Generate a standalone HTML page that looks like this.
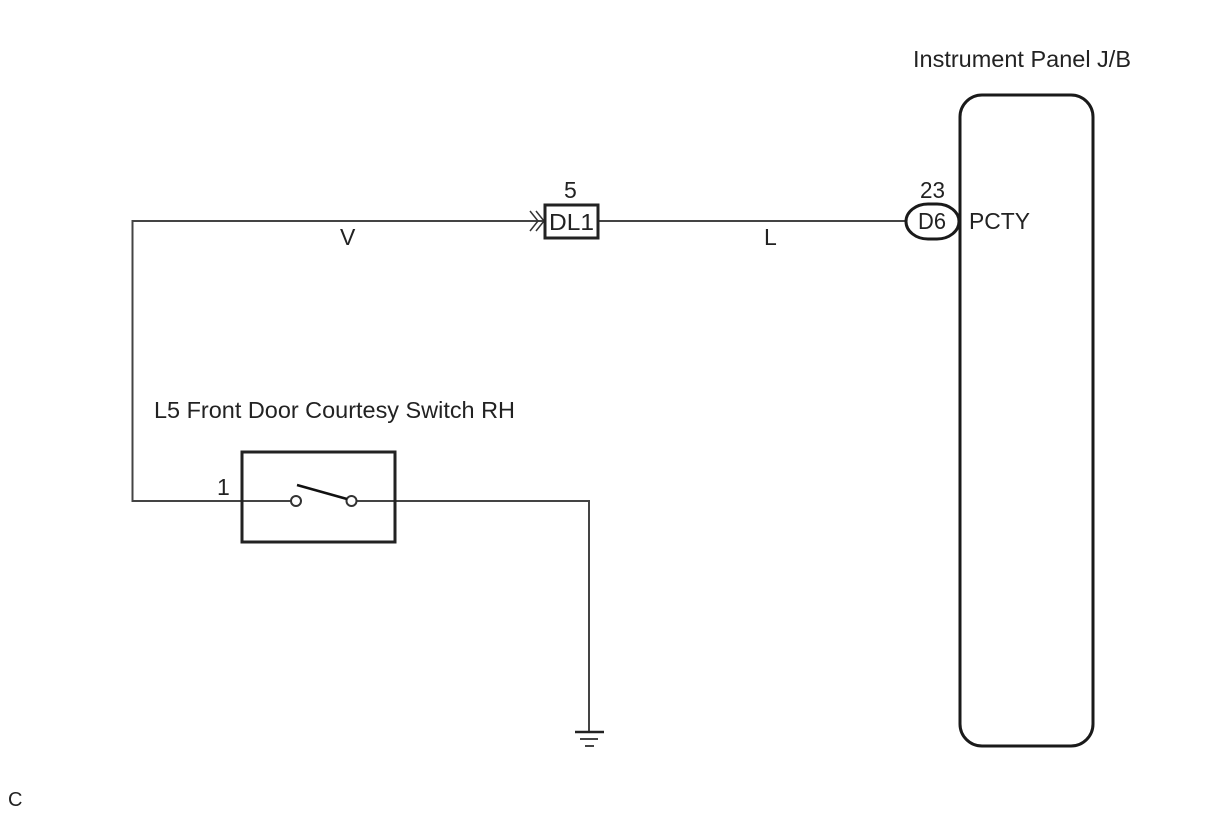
<!DOCTYPE html>
<html>
<head>
<meta charset="utf-8">
<style>
html,body{margin:0;padding:0;background:#fff;width:1210px;height:814px;overflow:hidden}
svg{display:block}
text{font-family:"Liberation Sans",Arial,sans-serif;font-size:23px;fill:#222}
</style>
</head>
<body>
<svg width="1210" height="814" viewBox="0 0 1210 814" xmlns="http://www.w3.org/2000/svg">
<rect width="1210" height="814" fill="#fff"/>
<!-- wires -->
<g fill="none" stroke="#444" stroke-width="2">
<path d="M544 221H132.500V501H242"/>
<path d="M598 221H905"/>
<path d="M242 501H291"/>
<path d="M357 501H589V732"/>
</g>
<!-- connector chevrons -->
<g fill="none" stroke="#333" stroke-width="1.500">
<path d="M530 211L538 221L530 231"/>
<path d="M536 211L544 221L536 231"/>
</g>
<!-- DL1 -->
<rect x="545" y="205" width="53" height="33" fill="#fff" stroke="#222" stroke-width="3"/>
<!-- J/B -->
<rect x="960" y="95" width="133" height="651" rx="22" ry="22" fill="#fff" stroke="#1a1a1a" stroke-width="3"/>
<!-- D6 -->
<rect x="906" y="204" width="53" height="35" rx="22" ry="17.500" fill="#fff" stroke="#1a1a1a" stroke-width="3"/>
<!-- switch -->
<rect x="242" y="452" width="153" height="90" fill="none" stroke="#222" stroke-width="3"/>
<circle cx="296" cy="501" r="5" fill="#fff" stroke="#333" stroke-width="2"/>
<circle cx="351.500" cy="501" r="5" fill="#fff" stroke="#333" stroke-width="2"/>
<path d="M297 485L347 499" stroke="#111" stroke-width="2.500" fill="none"/>
<!-- ground -->
<path d="M575 732H604" stroke="#222" stroke-width="2.500" fill="none"/>
<path d="M580 739H598" stroke="#444" stroke-width="2" fill="none"/>
<path d="M585 746H594" stroke="#444" stroke-width="2" fill="none"/>
<!-- labels -->
<text x="913" y="67" textLength="218" lengthAdjust="spacingAndGlyphs">Instrument Panel J/B</text>
<text x="564" y="198">5</text>
<text x="920" y="198" textLength="25" lengthAdjust="spacingAndGlyphs">23</text>
<text x="549" y="230" textLength="45" lengthAdjust="spacingAndGlyphs">DL1</text>
<text x="918" y="229" textLength="28" lengthAdjust="spacingAndGlyphs">D6</text>
<text x="969" y="229" textLength="61" lengthAdjust="spacingAndGlyphs">PCTY</text>
<text x="340" y="245">V</text>
<text x="764" y="245">L</text>
<text x="154" y="418" textLength="361" lengthAdjust="spacingAndGlyphs">L5 Front Door Courtesy Switch RH</text>
<text x="217" y="495">1</text>
<text x="8" y="806" style="font-size:20px">C</text>
</svg>
</body>
</html>
